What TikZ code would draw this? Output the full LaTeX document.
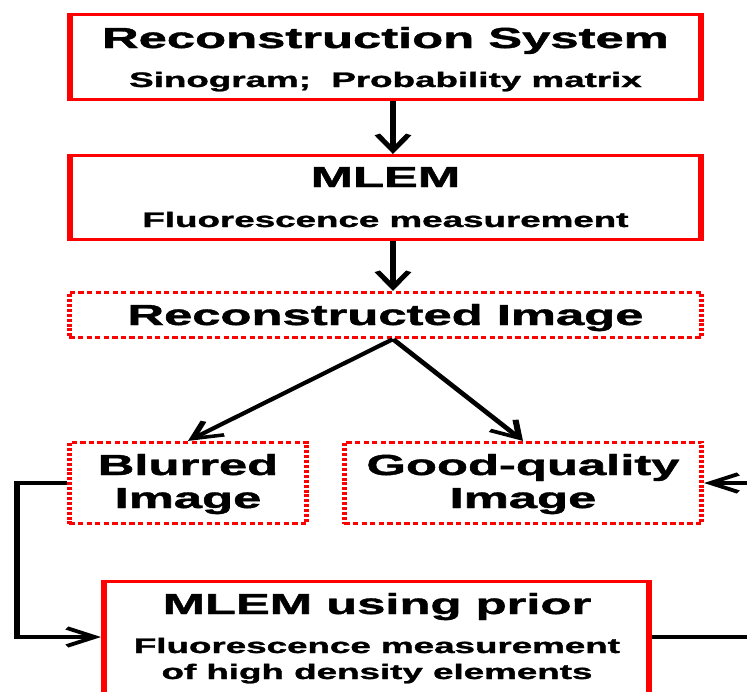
\documentclass[tikz,border=0pt]{standalone}
\usepackage{fontspec}
\setmainfont{Liberation Sans}[BoldFeatures={FakeBold=1.2}]
\usetikzlibrary{arrows.meta,positioning}

\begin{document}
\begin{tikzpicture}[>={Straight Barb[length=16pt,width=18pt]},
	solidbox/.style={draw=red, line width=3.3pt, inner sep=0pt},
	dotbox/.style={draw=red, line width=3pt, dash pattern=on 3pt off 1.9pt, inner sep=0pt},
	bigtxt/.style={font=\bfseries\fontsize{29}{33}\selectfont, anchor=base, inner sep=0pt, align=center},
	smalltxt/.style={font=\bfseries\fontsize{21}{26}\selectfont, anchor=base, inner sep=0pt, align=center},
	flow/.style={->, line width=3.5pt}]

\useasboundingbox (0pt,0pt) rectangle (747pt,-691pt);
\clip (0pt,0pt) rectangle (747pt,-691pt);

% whole chart is wide-stretched, as in the figure
\begin{scope}[transform canvas={xscale=1.75}, x=0.5714pt, y=-1pt]
	% ---- boxes ----
	\node[solidbox, minimum width=360.6pt, minimum height=84.7pt] (recsys) at (385.5,57) {};
	\node[solidbox, minimum width=360.6pt, minimum height=83.7pt] (mlem) at (385.5,197.5) {};
	\node[dotbox, minimum width=361.2pt, minimum height=45.2pt] (recimg) at (385.5,315) {};
	\node[dotbox, minimum width=135.5pt, minimum height=81.2pt] (blurred) at (188,483) {};
	\node[dotbox, minimum width=204pt, minimum height=81.2pt] (good) at (523,483) {};
	\node[solidbox, minimum width=311.5pt, minimum height=120pt] (prior) at (376.5,641.7) {};

	% ---- texts (base = last line) ----
	\node[bigtxt] (recsysT) at (385.5,48) {Reconstruction System};
	\node[smalltxt] (recsysS) at (385.5,87) {Sinogram;~ Probability matrix};
	\node[bigtxt] (mlemT) at (385.5,187) {MLEM};
	\node[smalltxt] (mlemS) at (385.5,227) {Fluorescence measurement};
	\node[bigtxt] (recimgT) at (385.5,325) {Reconstructed Image};
	\node[bigtxt] (blurredT) at (188,508) {Blurred\\Image};
	\node[bigtxt] (goodT) at (523,508) {Good-quality\\Image};
	\node[bigtxt] (priorT) at (377,614) {MLEM using prior};
	\node[smalltxt] (priorS) at (377,679) {Fluorescence measurement\\of high density elements};

	% ---- connectors ----
	\coordinate (ax) at (393,0);
	\coordinate (loopy) at (0,637);
	\draw[flow] (recsys.south -| ax) -- (mlem.north -| ax);
	\draw[flow] (mlem.south -| ax) -- (recimg.north -| ax);
	\draw[flow] (recimg.south -| ax) -- (blurred.north);
	\draw[flow] (recimg.south -| ax) -- (good.north);
	\draw[flow] (blurred.west) -- ++(-50,0) |- (prior.west |- loopy);
	\draw[flow] (prior.east |- loopy) -- ++(120,0) |- (good.east);
\end{scope}
\end{tikzpicture}
\end{document}
